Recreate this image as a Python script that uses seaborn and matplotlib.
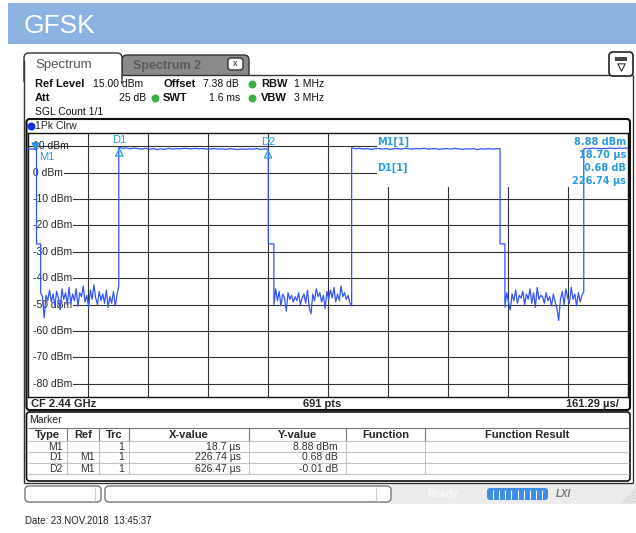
import numpy as np
import pandas as pd
import matplotlib
matplotlib.use("Agg")
import matplotlib.pyplot as plt
import matplotlib.transforms as mtransforms
from matplotlib.patches import Rectangle, FancyBboxPatch
import seaborn as sns

# ---- values ----
sweep_time_us = 1612.9          # 10 div x 161.29 us/div
ref_level_dbm = 15.0
bottom_dbm = -85.0
level_lines = [10, 0, -10, -20, -30, -40, -50, -60, -70, -80]

# burst edges of the trace (us)
burst_start_us = [0.0, 244.0, 870.0, 1494.0]
burst_end_us = [23.0, 646.0, 1269.0, 1612.9]
shoulder_end_us = [34.0, 661.0, 1282.0]
shoulder_dbm = -27.0

# burst tops (dBm)
top0 = [9.1, 8.9, 8.9]
top1 = [9.6, 9.2, 9.3, 9.0, 9.3, 9.1, 8.9, 9.2, 8.8, 9.1, 8.7, 9.0, 8.8, 9.2,
        8.9, 9.1, 9.0, 9.2, 9.1, 9.0, 9.2, 9.0, 9.1, 8.9, 9.0, 9.1, 8.9, 9.0,
        8.8, 9.1, 8.9, 8.7, 9.0, 8.8, 9.0, 8.9, 9.1, 8.8, 9.0, 8.9]
top2 = [9.4, 9.0, 9.2, 8.9, 9.1, 8.8, 9.0, 9.2, 8.9, 9.1, 8.8, 9.0, 9.1, 8.9,
        9.2, 9.0, 8.9, 9.1, 9.0, 9.2, 8.9, 9.0, 9.1, 8.8, 9.0, 9.1, 8.9, 9.2,
        9.0, 8.8, 9.0, 8.9, 9.1, 8.7, 9.0, 8.9, 9.1, 8.9, 9.0, 9.1]
top3 = [8.9, 9.2, 9.0, 9.3, 9.1, 9.2, 9.0, 9.2, 9.1, 9.3, 9.2, 9.1, 9.3, 9.2,
        9.3, 9.2]

# noise floor between bursts (dBm)
noise1 = [-45.5, -47.0, -55.0, -46.5, -48.5, -44.5, -49.0, -46.0, -50.5, -45.0,
          -47.5, -52.0, -44.0, -48.0, -45.5, -50.0, -43.5, -49.5, -46.0, -48.5,
          -44.0, -50.5, -45.5, -47.0, -43.0, -49.0, -46.5, -51.0, -44.5, -48.0,
          -42.5, -47.5, -50.0, -45.0, -48.5, -46.0, -49.5, -44.5, -51.0, -47.0,
          -49.5, -45.0, -50.5, -46.5, -43.0]
noise2 = [-50.0, -44.0, -48.5, -45.0, -50.5, -46.0, -47.5, -52.5, -45.5, -48.0,
          -46.5, -49.0, -47.0, -48.5, -45.5, -50.0, -47.5, -46.0, -49.5, -44.5,
          -51.0, -53.5, -46.0, -48.5, -44.0, -47.0, -45.5, -49.0, -46.5, -51.5,
          -45.0, -48.0, -44.5, -47.5, -43.5, -49.0, -46.0, -48.5, -43.0, -47.0,
          -45.5, -48.0, -46.5, -49.5, -50.5]
noise3 = [-51.0, -45.5, -49.0, -52.0, -46.0, -48.5, -44.5, -49.5, -46.5, -47.5,
          -45.0, -50.0, -46.0, -48.0, -44.0, -49.5, -45.5, -51.0, -43.5, -48.0,
          -46.5, -47.0, -49.5, -45.5, -48.5, -47.0, -50.5, -46.0, -49.0, -51.5,
          -56.0, -48.0, -45.0, -50.0, -44.0, -47.5, -49.5, -43.5, -48.0, -46.0,
          -50.5, -45.5, -49.0, -46.5, -45.0]

# marker table
marker_type = ["M1", "D1", "D2"]
marker_ref = ["", "M1", "M1"]
marker_trc = [1, 1, 1]
marker_x_us = [18.7, 226.74, 626.47]
marker_y = [8.88, 0.68, -0.01]
marker_y_unit = ["dBm", "dB", "dB"]
table_cols = ["Type", "Ref", "Trc", "X-value", "Y-value", "Function", "Function Result"]

# ---- build the trace ----
tops = [top0, top1, top2, top3]
noises = [noise1, noise2, noise3]
t_all, v_all = [], []
for i in range(4):
    t_all += list(np.linspace(burst_start_us[i], burst_end_us[i], len(tops[i])))
    v_all += tops[i]
    if i < 3:
        t_all += [burst_end_us[i], shoulder_end_us[i]]
        v_all += [shoulder_dbm, shoulder_dbm]
        t_all += list(np.linspace(shoulder_end_us[i], burst_start_us[i + 1], len(noises[i])))
        v_all += noises[i]
trace = pd.DataFrame({"time_us": t_all, "level_dbm": v_all})

# absolute marker positions (deltas refer to M1)
m_t = [marker_x_us[0]] + [marker_x_us[0] + d for d in marker_x_us[1:]]
m_v = [marker_y[0]] + [marker_y[0] + d for d in marker_y[1:]]
markers = pd.DataFrame({"t": m_t, "v": m_v, "name": marker_type})

sns.set_theme(style="white")
plt.rcParams["font.family"] = ["Liberation Sans", "DejaVu Sans"]

W, H = 636, 533
fig = plt.figure(figsize=(W / 100, H / 100), dpi=100)
bg = fig.add_axes([0, 0, 1, 1])
bg.set_xlim(0, W)
bg.set_ylim(H, 0)
bg.axis("off")
px = bg.transData

def box(x0, y0, x1, y1, fc="none", ec="#333333", lw=1.0, r=0, z=1, ax=bg):
    if r > 0:
        p = FancyBboxPatch((x0, y0), x1 - x0, y1 - y0,
                           boxstyle=f"round,pad=0,rounding_size={r}",
                           fc=fc, ec=ec, lw=lw, zorder=z, transform=px)
    else:
        p = Rectangle((x0, y0), x1 - x0, y1 - y0, fc=fc, ec=ec, lw=lw,
                      zorder=z, transform=px)
    ax.add_patch(p)

def line(xs, ys, c="#333333", lw=1.0, z=4):
    bg.plot(xs, ys, color=c, lw=lw, zorder=z, solid_capstyle="butt")

# title bar
box(8, 3, 636, 44, fc="#8db3e2", ec="none")
bg.text(24, 33, "GFSK", color="white", fontsize=19, va="baseline", ha="left")

# tabs and outer frame
box(122, 55, 249, 85, fc="#8a8a8a", ec="#333333", r=5, z=1.5)
box(122, 75, 634, 92, fc="white", ec="none", z=1.8)
box(24, 53, 122, 85, fc="white", ec="#333333", r=5, z=2)
box(24.6, 74, 121.4, 92, fc="white", ec="none", z=3)
line([24, 24], [60, 483])
line([633, 633], [75, 483])
line([24, 633], [483, 483])
line([122, 633], [75, 75])
bg.text(35, 65, "Spectrum", color="#555555", fontsize=9.5, va="center", zorder=5)
bg.text(133, 66, "Spectrum 2", color="#5a5a5a", fontsize=9, fontweight="bold",
        va="center", zorder=5)
box(228, 58, 243, 70, fc="white", ec="#333333", r=3, z=5)
bg.text(235.5, 64, "x", fontsize=6.5, ha="center", va="center", zorder=6)
box(609, 52, 633, 76, fc="white", ec="#222222", lw=1.2, r=4, z=5)
box(615, 57, 627, 61, fc="#444444", ec="none", z=6)
bg.scatter([621], [67], marker="v", s=28, facecolors="white", edgecolors="#333333",
           linewidths=0.8, zorder=6)

# setting header
hdr = dict(va="center", zorder=5, color="#111111")
bold = dict(fontsize=8, fontweight="bold", **hdr)
val = dict(fontsize=7.5, **hdr)
bg.text(35, 84, "Ref Level", **bold)
bg.text(93, 84, "15.00 dBm", **val)
bg.text(163, 84, "Offset", **bold)
bg.text(203, 84, "7.38 dB", **val)
bg.text(261, 84, "RBW", **bold)
bg.text(294, 84, "1 MHz", **val)
bg.text(35, 98, "Att", **bold)
bg.text(146, 98, "25 dB", ha="right", **val)
bg.text(163, 98, "SWT", **bold)
bg.text(209, 98, "1.6 ms", **val)
bg.text(261, 98, "VBW", **bold)
bg.text(294, 98, "3 MHz", **val)
bg.text(35, 112, "SGL Count 1/1", **val)
bg.scatter([252, 155, 252], [84, 98, 98], s=22, color="#3cb043", zorder=5)

# graph frame
box(26.5, 119, 630, 410, ec="#111111", lw=1.5, r=3, z=2)
bg.scatter([31], [126], s=22, color="#1030e0", zorder=5)
bg.text(35, 126, "1Pk Clrw", fontsize=7.5, va="center", zorder=5)
bar = dict(fontsize=8, fontweight="bold", va="center", zorder=5)
bg.text(31, 404, "CF 2.44 GHz", ha="left", **bar)
bg.text(322, 404, "691 pts", ha="center", **bar)
bg.text(619, 404, "161.29 µs/", ha="right", **bar)

# marker table
box(26.5, 412, 630, 481, ec="#111111", lw=1.2, r=3, z=2)
bg.text(29, 420, "Marker", fontsize=7.5, va="center", zorder=5)
col_edges = [28, 67, 99, 129, 249, 346, 425, 629]
col_pad = [4, 4, 5, 8, 8, 8, 8]
row_lines = [428, 441, 452, 463, 474]
line([28, 629], [row_lines[0], row_lines[0]], c="#777777", lw=0.8)
for y in row_lines[1:]:
    line([28, 629], [y, y], c="#c4c4c4", lw=0.8)
for x in col_edges[1:-1]:
    line([x, x], [row_lines[0], row_lines[1]], c="#777777", lw=0.8)
    line([x, x], [row_lines[1], row_lines[-1]], c="#c4c4c4", lw=0.8)
for j, name in enumerate(table_cols):
    bg.text((col_edges[j] + col_edges[j + 1]) / 2, 434.5, name, fontsize=8,
            fontweight="bold", ha="center", va="center", zorder=5)
for i in range(len(marker_type)):
    cells = [marker_type[i], marker_ref[i], str(marker_trc[i]),
             f"{marker_x_us[i]:g} µs", f"{marker_y[i]:.2f} {marker_y_unit[i]}"]
    yc = (row_lines[i + 1] + row_lines[i + 2]) / 2
    for j, s in enumerate(cells):
        bg.text(col_edges[j + 1] - col_pad[j], yc, s, fontsize=7.5, ha="right",
                va="center", color="#333333", zorder=5)

# status bar
box(391, 484, 636, 504, fc="#ececec", ec="none", z=1)
box(25, 486, 101, 502, fc="white", ec="#777777", r=4, z=2)
line([95, 95], [487, 501], c="#cccccc", lw=0.8)
box(105, 486, 391, 502, fc="white", ec="#777777", r=4, z=2)
line([376, 376], [487, 501], c="#cccccc", lw=0.8)
bg.text(427, 494, "Ready", fontsize=7.5, fontweight="bold", color="#fafafa",
        va="center", zorder=5)
box(487, 488, 548, 500, fc="#3d8ce6", ec="none", r=3, z=3)
for k in range(1, 10):
    line([487 + 6.1 * k, 487 + 6.1 * k], [489.5, 498.5], c="white", lw=0.8, z=4)
bg.text(556, 494, "LXI", fontsize=7, fontweight="bold", fontstyle="italic",
        color="#777777", va="center", zorder=5)
for k in range(5):
    line([622 + 3 * k, 636], [503, 489 + 3 * k], c="#cfcfcf", lw=0.6, z=3)

bg.text(25, 521, "Date: 23.NOV.2018  13:45:37", fontsize=7, color="#222222",
        va="center")

# ---- the sweep diagram ----
ax = fig.add_axes([28 / W, 1 - 397 / H, 600 / W, 264 / H])
ax.set_zorder(3)
ax.set_facecolor("white")
ax.set_xlim(0, sweep_time_us)
ax.set_ylim(bottom_dbm, ref_level_dbm)
div_us = sweep_time_us / 10
for k in range(1, 10):
    ax.axvline(k * div_us, color="#333333", lw=0.8, zorder=1)
for lv in level_lines:
    if lv == 10:
        ax.axhline(lv, color="#333333", lw=0.8, zorder=1)
        kw = {}
    else:
        ax.axhline(lv, xmin=0.02, color="#333333", lw=0.8, zorder=1)
        kw = dict(bbox=dict(fc="white", ec="none", pad=0.8))
    ax.text(0.008, lv, f"{lv} dBm", transform=ax.get_yaxis_transform(),
            fontsize=7.5, ha="left", va="center", zorder=2, **kw)

# marker readout area
ax.add_patch(Rectangle((377, 133.5), 250.5, 53.5, fc="white", ec="none",
                       zorder=2, transform=px))
mcol = "#2a9be0"
ro = dict(fontsize=7, fontweight="bold", color=mcol, va="center",
          family="DejaVu Sans", zorder=5, transform=px)
ax.text(377, 142, f"{marker_type[0]}[1]", ha="left", **ro)
ax.text(377, 168, f"{marker_type[1]}[1]", ha="left", **ro)
ax.text(626, 142, f"{marker_y[0]:.2f} {marker_y_unit[0]}", ha="right", **ro)
ax.text(626, 155, f"{marker_x_us[0]:.2f} µs", ha="right", **ro)
ax.text(626, 168, f"{marker_y[1]:.2f} {marker_y_unit[1]}", ha="right", **ro)
ax.text(626, 181, f"{marker_x_us[1]:.2f} µs", ha="right", **ro)

sns.lineplot(data=trace, x="time_us", y="level_dbm", sort=False, estimator=None,
             color="#3355ff", linewidth=0.9, ax=ax, zorder=3)

m1_tr = mtransforms.offset_copy(ax.transData, fig=fig, x=0, y=3, units="dots")
d_tr = mtransforms.offset_copy(ax.transData, fig=fig, x=0, y=-5, units="dots")
sns.scatterplot(data=markers.iloc[:1], x="t", y="v", marker="v", s=30,
                color="#2a8fe0", edgecolor="#2a8fe0", ax=ax, transform=m1_tr,
                zorder=5, legend=False)
sns.scatterplot(data=markers.iloc[1:], x="t", y="v", marker="^", s=28,
                color=mcol, edgecolor=mcol, linewidth=0.9, ax=ax,
                transform=d_tr, zorder=5, legend=False)
ax.collections[-1].set_facecolor("none")
for i, r in markers.iterrows():
    if i == 0:
        ax.annotate(r["name"], (r["t"], r["v"]), xytext=(4, -8),
                    textcoords="offset pixels", fontsize=8, color=mcol,
                    ha="left", va="center", zorder=5)
    else:
        ax.annotate(r["name"], (r["t"], r["v"]), xytext=(0, 7),
                    textcoords="offset pixels", fontsize=8, color=mcol,
                    ha="center", va="center", zorder=5)

ax.set_xlabel("")
ax.set_ylabel("")
ax.set_xticks([])
ax.set_yticks([])
for s in ax.spines.values():
    s.set_color("#111111")
    s.set_linewidth(1.0)
ax.set_xlim(0, sweep_time_us)
ax.set_ylim(bottom_dbm, ref_level_dbm)

fig.savefig("out.png", dpi=100)
